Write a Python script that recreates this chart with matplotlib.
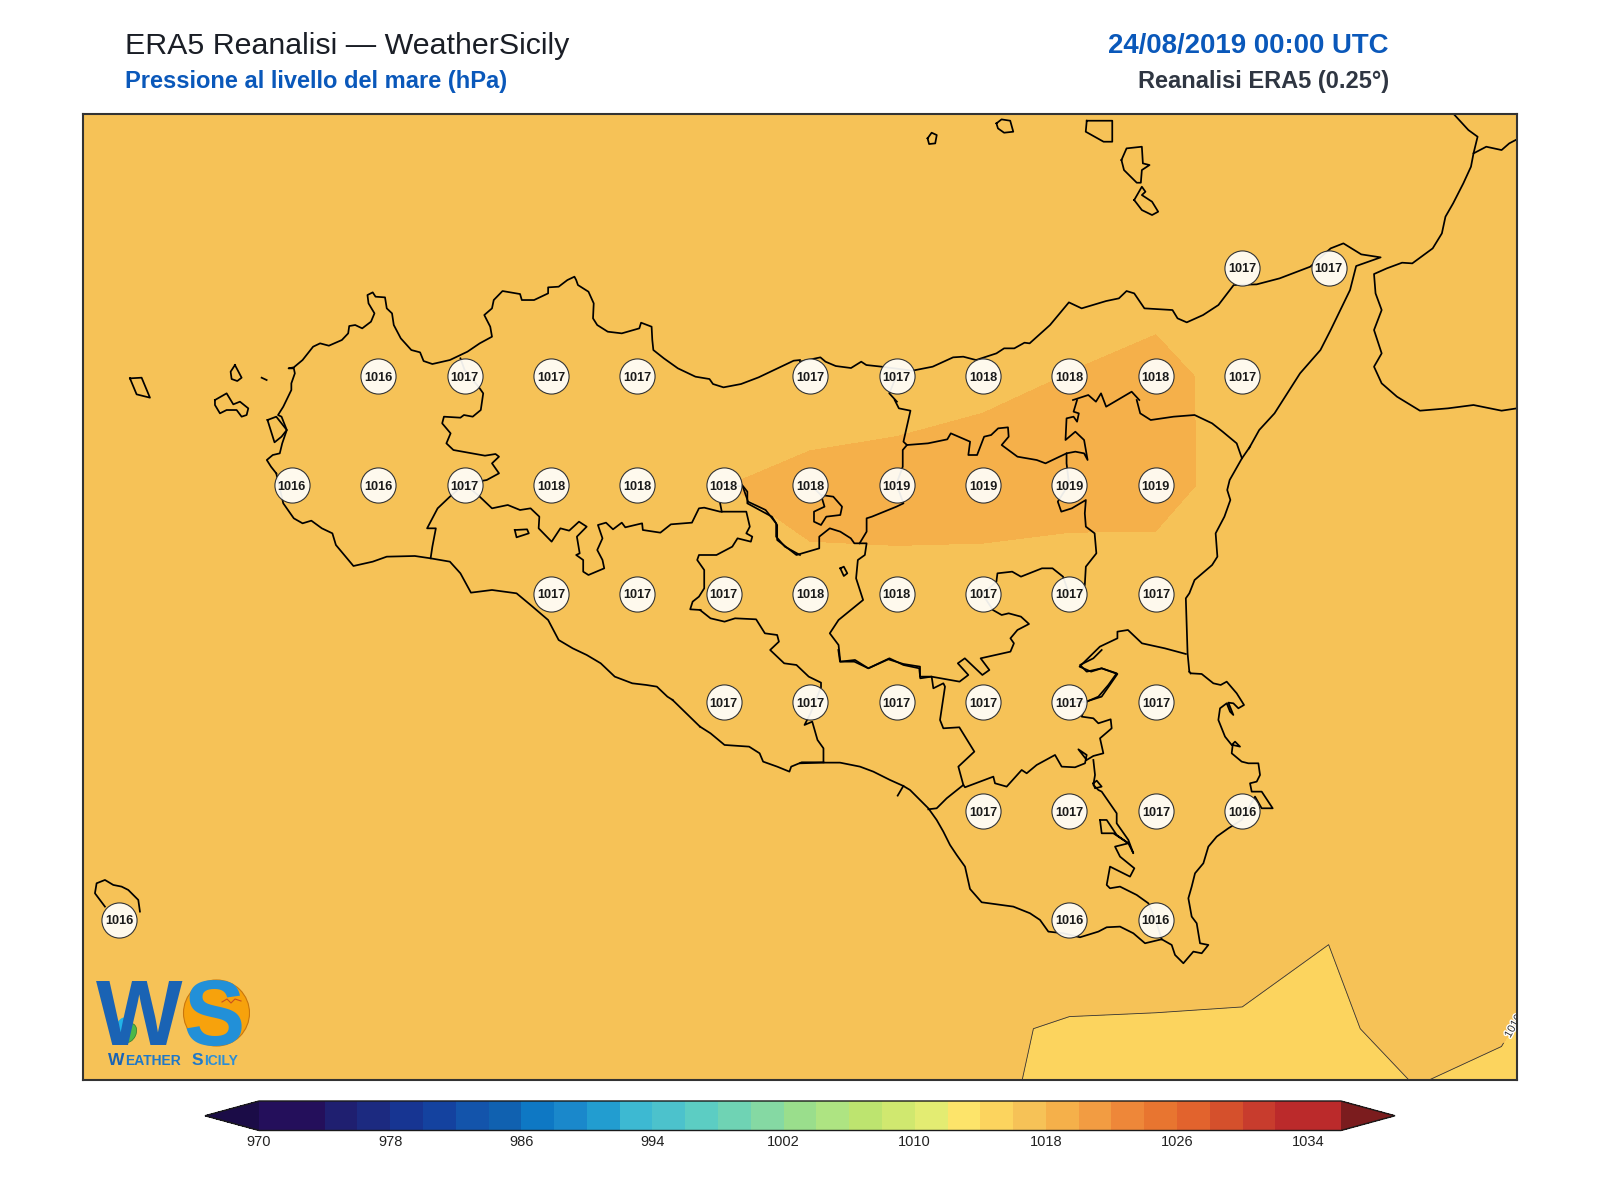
import numpy as np
import matplotlib
matplotlib.use("Agg")
import matplotlib.pyplot as plt
import matplotlib.patheffects as pe
from matplotlib.colors import ListedColormap, BoundaryNorm
from matplotlib.patches import Circle, Ellipse

plt.rcParams['font.family'] = ['Liberation Sans', 'DejaVu Sans']

# ERA5 grid, 0.25 deg
lons = np.arange(11.75, 16.26, 0.25)
lats = np.array([36.25, 36.5, 36.75, 37.0, 37.25, 37.5, 37.75, 38.0, 38.25, 38.5, 38.75])

msl_3625 = [1016.1, 1016.1, 1016.1, 1016.1, 1016.1, 1016.1, 1016.1, 1016.1, 1016.1, 1016.1, 1016.1, 1016.04, 1015.91, 1015.8, 1015.7, 1015.5, 1015.48, 1015.49, 1015.2]
msl_3650 = [1016.05, 1016.05, 1016.05, 1016.1, 1016.1, 1016.15, 1016.2, 1016.2, 1016.2, 1016.2, 1016.15, 1016.07, 1015.95, 1015.94, 1015.9, 1015.66, 1016.59, 1016.1, 1015.3]
msl_3675 = [1016.05, 1016.1, 1016.1, 1016.15, 1016.2, 1016.3, 1016.35, 1016.4, 1016.45, 1016.5, 1016.5, 1016.45, 1016.4, 1016.35, 1016.4, 1016.1, 1016.2, 1016.3, 1015.9]
msl_3700 = [1016.1, 1016.1, 1016.2, 1016.2, 1016.3, 1016.4, 1016.5, 1016.6, 1016.7, 1016.8, 1016.9, 1016.8, 1016.7, 1016.6, 1016.4, 1016.3, 1016.3, 1016.3, 1016.3]
msl_3725 = [1016.1, 1016.2, 1016.2, 1016.3, 1016.4, 1016.5, 1016.7, 1016.9, 1017.0, 1017.1, 1017.2, 1017.1, 1017.0, 1016.8, 1016.6, 1016.5, 1016.4, 1016.4, 1016.3]
msl_3750 = [1016.1, 1016.2, 1016.3, 1016.4, 1016.6, 1016.8, 1017.0, 1017.2, 1017.3, 1017.58, 1017.52, 1017.39, 1017.09, 1016.91, 1016.7, 1016.6, 1016.5, 1016.5, 1016.4]
msl_3775 = [1016.1, 1016.2, 1016.3, 1016.4, 1016.45, 1016.9, 1017.55, 1017.7, 1017.97, 1018.45, 1018.6, 1018.7, 1018.7, 1018.8, 1017.08, 1016.8, 1016.7, 1016.6, 1016.5]
msl_3800 = [1016.2, 1016.3, 1016.3, 1016.4, 1016.45, 1016.7, 1016.9, 1017.0, 1017.0, 1017.02, 1017.25, 1017.64, 1018.03, 1018.45, 1017.44, 1017.0, 1016.8, 1016.7, 1016.6]
msl_3825 = [1016.2, 1016.3, 1016.4, 1016.4, 1016.5, 1016.6, 1016.7, 1016.8, 1016.9, 1017.0, 1017.1, 1017.2, 1017.3, 1017.27, 1017.1, 1016.9, 1016.8, 1016.7, 1016.6]
msl_3850 = [1016.3, 1016.3, 1016.4, 1016.4, 1016.5, 1016.6, 1016.6, 1016.7, 1016.7, 1016.8, 1016.9, 1016.9, 1017.0, 1017.0, 1016.9, 1016.8, 1016.7, 1016.6, 1016.6]
msl_3875 = [1016.3, 1016.3, 1016.4, 1016.4, 1016.5, 1016.5, 1016.6, 1016.6, 1016.7, 1016.7, 1016.8, 1016.8, 1016.8, 1016.8, 1016.8, 1016.7, 1016.7, 1016.6, 1016.6]
msl = np.array([msl_3625, msl_3650, msl_3675, msl_3700, msl_3725, msl_3750, msl_3775, msl_3800, msl_3825, msl_3850, msl_3875])

# grid points that get a value bubble (land points)
label_points = {
    38.25: [15.25, 15.5],
    38.0: [12.75, 13.0, 13.25, 13.5, 14.0, 14.25, 14.5, 14.75, 15.0, 15.25],
    37.75: [12.5, 12.75, 13.0, 13.25, 13.5, 13.75, 14.0, 14.25, 14.5, 14.75, 15.0],
    37.5: [13.25, 13.5, 13.75, 14.0, 14.25, 14.5, 14.75, 15.0],
    37.25: [13.75, 14.0, 14.25, 14.5, 14.75, 15.0],
    37.0: [14.5, 14.75, 15.0, 15.25],
    36.75: [12.0, 14.75, 15.0],
}

levels = np.arange(970, 1037, 2)
cbar_ticks = np.arange(970, 1035, 8)
band_colors = ['#240f5b', '#240f5b', '#1f1f70', '#1c2a80', '#173592', '#14429f', '#1354ab', '#1061b0',
               '#0e78c4', '#1a88cb', '#229dd0', '#3db9d2', '#4cc2cc', '#5ccdc3', '#6fd3b4', '#85d9a3',
               '#9ade8c', '#aee482', '#bde46f', '#d0e86f', '#e3ec72', '#fde46a', '#fcd45e', '#f6c257',
               '#f5b04a', '#f29c42', '#ee8739', '#e87530', '#e2632d', '#d5502c', '#c83c2d', '#bb2a2b', '#bb2a2b']

TILES = {
    'px': (0, 0, 1, 1),
    'A': (250, 280, 2.851, 3),
    'B': (700, 400, 2.851, 3),
    'C': (800, 650, 3, 3),
    'D': (800, 0, 1.96, 3),
    'E': (120, 355, 3, 3),
    'F': (85, 870, 3, 3),
}

north_coast_w = [(75, 580), (60, 560), (48, 540), (65, 525), (85, 520), (92, 490), (105, 450), (90, 410), (80, 405), (95, 380), (118, 330), (118, 310), (128, 280), (125, 265), (110, 265), (125, 262), (150, 240), (180, 200), (200, 190), (225, 197), (262, 180), (280, 160), (283, 138), (300, 135), (320, 145), (345, 125), (355, 100), (338, 70), (335, 45), (350, 37), (358, 50), (385, 52), (390, 85), (405, 100), (410, 135), (430, 175), (460, 210), (485, 217), (495, 243), (520, 252), (570, 240), (620, 215), (655, 190), (690, 170), (685, 140), (668, 105), (690, 85), (695, 60), (720, 33), (770, 42), (775, 60), (810, 60), (850, 40), (850, 22), (880, 20), (905, 0), (925, -10), (930, 0), (935, 15), (965, 35), (980, 70), (978, 115), (990, 135), (1020, 155), (1060, 160), (1110, 145), (1115, 128), (1145, 140), (1147, 180), (1150, 210), (1180, 235), (1220, 265), (1270, 290), (1310, 297), (1320, 312), (1350, 322), (1400, 312), (1450, 292), (1510, 262), (1550, 242), (1568, 240)]
north_coast_e = [(0, 1085), (40, 1072), (50, 1085), (70, 1098), (100, 1104), (120, 1085), (130, 1095), (160, 1100), (220, 1112), (260, 1100), (300, 1072), (320, 1070), (345, 1080), (385, 1060), (400, 1045), (420, 1045), (440, 1028), (450, 1030), (490, 975), (527, 907), (552, 925), (600, 903), (625, 895), (640, 873), (655, 880), (675, 925), (730, 930), (740, 955), (758, 967), (790, 945), (820, 915), (850, 855), (895, 853), (940, 835), (1000, 800), (1040, 745), (1065, 730), (1100, 763), (1138, 772), (1090, 798), (1078, 870), (1040, 990), (1020, 1050), (980, 1120), (930, 1240), (900, 1290), (880, 1345)]
ionian_coast_n = [(1568, 140), (1545, 175), (1510, 240), (1503, 270), (1512, 300), (1495, 350), (1470, 400), (1475, 470), (1460, 495), (1410, 540), (1395, 580), (1385, 595), (1390, 760), (1395, 815)]
ionian_coast_s = [(1172, 70), (1205, 72), (1240, 100), (1262, 105), (1280, 95), (1310, 130), (1332, 165), (1315, 175), (1300, 160), (1285, 158), (1300, 195), (1290, 185), (1280, 160), (1260, 175), (1255, 210), (1275, 260), (1295, 285), (1305, 275), (1320, 290), (1298, 285), (1295, 310), (1325, 335), (1345, 340), (1375, 340), (1380, 375), (1370, 395), (1350, 400), (1355, 425), (1385, 425), (1418, 475), (1385, 475), (1365, 440), (1325, 510), (1285, 535), (1250, 560), (1225, 590), (1210, 640), (1185, 670), (1175, 710), (1165, 745), (1175, 800), (1190, 820), (1200, 880), (1225, 885), (1205, 910), (1180, 905), (1150, 940), (1125, 915), (1115, 885), (1085, 868), (1035, 880), (1000, 850), (960, 830), (920, 832), (895, 845), (840, 862), (790, 850), (745, 845), (720, 810), (690, 790), (640, 770), (545, 757), (510, 717), (495, 650), (470, 615), (450, 585), (430, 545), (410, 510), (385, 475), (360, 450), (330, 420), (310, 408), (270, 390), (220, 365), (180, 350), (120, 338), (70, 338), (0, 340)]
ionian_link = [(1395, 815), (1172, 70)]
south_coast_c = [(352, 1087), (290, 1087), (260, 1100), (255, 1115), (220, 1100), (180, 1085), (170, 1060), (140, 1040), (70, 1035), (30, 1000), (0, 980)]
south_coast_joint = [(700, 726.7), (672.6, 700)]
south_coast_w = [(1205, 1260), (1190, 1250), (1160, 1220), (1130, 1215), (1090, 1210), (1040, 1190), (1000, 1150), (960, 1125), (920, 1105), (880, 1080), (850, 1020), (800, 975), (760, 940), (690, 930), (630, 938), (600, 880), (570, 845), (515, 835), (470, 828), (390, 830), (350, 845), (295, 858), (245, 795), (235, 760), (205, 745), (175, 722), (150, 730), (125, 715), (95, 670), (75, 580)]
stagnone = [(50, 420), (75, 410), (105, 450), (90, 470), (70, 487), (50, 420)]

border_trapani = [(515, 835), (520, 800), (530, 745), (505, 745), (520, 715), (535, 685), (570, 650), (612, 612)]
border_palermo = [(600, 235), (612, 270), (655, 325), (665, 340), (658, 390), (635, 410), (610, 405), (600, 413), (553, 410), (548, 430), (572, 460), (560, 490), (580, 510), (670, 527), (700, 522), (710, 530), (690, 550), (710, 580), (675, 600), (612, 612), (655, 650), (690, 685), (735, 675), (770, 690), (800, 685), (825, 710), (823, 745), (860, 785), (885, 745), (910, 752), (938, 725), (960, 740), (932, 770), (940, 820), (930, 825), (950, 840), (950, 875), (965, 885), (1010, 865), (1005, 840), (990, 810), (1005, 775), (992, 735), (1015, 728), (1035, 748), (1060, 728), (1070, 742), (1118, 730), (1120, 750), (1170, 758), (1200, 733), (1260, 728), (1280, 685), (1295, 683), (1340, 695), (1415, 695), (1425, 740), (1415, 760), (1432, 770), (1428, 785), (1390, 775), (1375, 800), (1330, 825), (1280, 825), (1275, 840), (1295, 870), (1295, 925), (1280, 950), (1262, 965), (1255, 988), (1285, 990)]
border_cl_ag = [(0, 630), (30, 655), (70, 665), (100, 655), (160, 658), (185, 700), (220, 705), (225, 725), (200, 750), (240, 790), (275, 795), (310, 830), (345, 848), (345, 862), (315, 940), (298, 975), (320, 965), (335, 1020), (352, 1045), (352, 1087)]
lake_arancio = [(755, 750), (790, 748), (795, 760), (760, 772), (755, 750)]
border_pa_me_a = [(1340, 668), (1345, 695)]
border_en_pa = [(1350, 612), (1405, 620), (1420, 665), (1470, 690), (1500, 730), (1500, 770), (1525, 800), (1568, 825)]
border_cl_en = [(120, 255), (135, 275), (135, 310), (205, 350), (220, 375), (220, 420), (275, 465), (340, 445), (340, 410), (370, 385), (400, 395), (430, 415), (440, 430), (475, 430), (470, 465), (450, 480), (445, 535), (465, 600), (395, 660), (370, 700), (395, 735), (400, 785), (440, 785), (480, 805), (540, 775), (580, 795), (625, 805), (628, 835), (660, 830), (740, 845), (765, 825), (735, 790), (755, 775), (805, 825), (825, 810), (800, 775), (885, 755), (895, 730), (885, 715), (905, 690), (938, 672), (915, 650), (880, 640), (860, 645), (835, 630), (805, 582), (845, 545), (848, 520), (890, 515), (915, 530), (975, 505), (1005, 505), (1035, 530), (1052, 582)]
border_me_ct = [(1085, 580), (1097, 555), (1100, 500), (1130, 460), (1125, 400), (1100, 380), (1097, 340), (1100, 300), (1060, 325), (1030, 335), (1020, 305), (1052, 252)]
border_me_en_a = [(1052, 252), (1045, 190), (1045, 160), (1070, 155), (1095, 160), (1105, 180), (1095, 120), (1070, 95), (1042, 120), (1045, 55), (1065, 50), (1075, 65), (1080, 40), (1065, 35), (1075, 0)]
border_me_en_b = [(1045, 160), (985, 190), (960, 180), (905, 170), (860, 135), (880, 110), (878, 82), (850, 85), (830, 105), (810, 110), (790, 165), (765, 165), (770, 125), (715, 100), (705, 118), (650, 130), (590, 135), (580, 125), (600, 32), (567, 25), (555, 0)]
border_pa_en = [(590, 135), (578, 150), (578, 200), (560, 252), (580, 310), (560, 320), (490, 350), (475, 355), (475, 395), (455, 430)]
exclave_sperlinga = [(315, 255), (345, 285), (380, 290), (405, 320), (400, 345), (360, 350), (345, 375), (325, 365), (325, 335), (355, 320), (345, 285)]
lake_pozzillo = [(400, 505), (410, 500), (420, 520), (410, 528), (400, 505)]
border_me_top = [(189, 1128), (175, 1180), (190, 1205)]
border_me_top4 = [(535, 1200), (565, 1185), (580, 1205), (590, 1180), (600, 1220), (650, 1175), (665, 1200)]
border_me_top5 = [(1245, 0), (1255, 40), (1285, 60), (1350, 50), (1410, 45), (1460, 70), (1490, 95), (1530, 130), (1545, 175)]
border_ct_sr = [(1052, 907), (1100, 905), (1145, 890), (1165, 860), (1190, 822), (1145, 805), (1115, 815), (1082, 800), (1140, 740), (1190, 715), (1190, 695), (1220, 690), (1260, 730), (1325, 745), (1385, 762)]
border_ct_rg = [(808, 157), (860, 155), (845, 200), (880, 205), (895, 220), (932, 208), (935, 235), (900, 265), (910, 310), (880, 318), (860, 330), (835, 298), (860, 315), (855, 340), (825, 352), (785, 350), (765, 315), (710, 345), (680, 370), (665, 360), (620, 410), (585, 400), (580, 380), (495, 412), (490, 405), (475, 350), (523, 305), (478, 232), (430, 235), (420, 210), (435, 110), (430, 100), (400, 115), (395, 80), (360, 80), (360, 50), (310, 42), (265, 28), (205, 55), (165, 30), (120, 35), (115, 0)]
border_en_ct = [(860, 155), (895, 140), (925, 105), (950, 70), (905, 55), (860, 65), (840, 45), (880, 25), (905, 0)]
border_cl_rg = [(490, 405), (440, 445), (410, 475), (385, 478)]
river_spur = [(310, 408), (293, 437)]
border_sr_rg = [(880, 330), (885, 375), (880, 405), (895, 420), (905, 425), (950, 490), (950, 520), (985, 570), (1000, 610), (985, 580), (945, 590), (960, 620), (1003, 655), (990, 680), (930, 650), (920, 705), (930, 715), (960, 710), (1010, 735), (1045, 760), (1067, 810), (1085, 868)]
sr_inlet = [(900, 510), (920, 510), (950, 555), (985, 580), (940, 550), (905, 550), (900, 510)]
sr_lake = [(880, 400), (890, 392), (905, 410), (885, 415), (880, 400)]

ustica = [(250, 415), (258, 398), (268, 405), (265, 430), (253, 432), (250, 415)]
alicudi = [(385, 370), (395, 358), (412, 362), (418, 395), (400, 398), (388, 385), (385, 370)]
filicudi = [(562, 362), (612, 362), (612, 425), (595, 425), (560, 395), (562, 362)]
lipari = [(630, 480), (640, 445), (670, 440), (672, 490), (685, 495), (670, 510), (668, 548), (660, 548), (635, 510), (630, 480)]
vulcano = [(655, 600), (670, 560), (677, 575), (670, 585), (690, 605), (702, 635), (690, 645), (670, 630), (655, 600)]
calabria_coast = [(1283, 345), (1310, 390), (1328, 410), (1320, 460), (1315, 500), (1300, 550), (1280, 610), (1265, 650), (1258, 700), (1240, 745), (1200, 790), (1180, 788), (1150, 805), (1125, 822), (1128, 880), (1140, 930), (1125, 990), (1140, 1060), (1125, 1100), (1140, 1150), (1170, 1190), (1215, 1232), (1270, 1225), (1320, 1215), (1375, 1232), (1405, 1225)]
calabria_border = [(1320, 460), (1345, 440), (1375, 450), (1390, 430), (1405, 418)]

marettimo = [(30, 70), (65, 68), (90, 128), (50, 118), (30, 70)]
levanzo = [(345, 30), (365, 68), (352, 78), (335, 72), (332, 50), (345, 30)]
favignana = [(285, 135), (320, 115), (340, 148), (360, 140), (385, 160), (380, 180), (365, 185), (350, 165), (320, 165), (300, 175), (285, 150), (285, 135)]
formica = [(425, 68), (440, 75)]
pantelleria = [(60, 110), (30, 70), (35, 40), (60, 30), (85, 45), (110, 50), (130, 60), (160, 90), (165, 125)]

outlines = [
    ('A', north_coast_w), ('D', north_coast_e), ('B', ionian_coast_n), ('C', ionian_coast_s),
    ('B', south_coast_c), ('px', south_coast_joint), ('A', south_coast_w), ('A', stagnone),
    ('A', border_trapani), ('A', border_palermo), ('B', border_cl_ag), ('A', lake_arancio), ('A', border_pa_me_a),
    ('A', border_en_pa), ('B', border_cl_en), ('B', border_me_ct), ('B', border_me_en_a), ('B', border_me_en_b),
    ('B', border_pa_en), ('B', exclave_sperlinga), ('B', lake_pozzillo), ('D', border_me_top),
    ('D', border_me_top4), ('B', border_me_top5), ('B', border_ct_sr), ('C', border_ct_rg),
    ('C', border_en_ct), ('C', border_cl_rg), ('C', river_spur), ('C', border_sr_rg), ('C', sr_inlet), ('C', sr_lake),
    ('D', ustica), ('D', alicudi), ('D', filicudi), ('D', lipari), ('D', vulcano), ('D', calabria_coast), ('D', calabria_border),
    ('E', marettimo), ('E', levanzo), ('E', favignana), ('E', formica), ('F', pantelleria),
]


def scan_to_lonlat(tile, pts):
    x0, y0, sx, sy = TILES[tile]
    pts = np.asarray(pts, dtype=float)
    x = x0 + pts[:, 0] / sx
    y = y0 + pts[:, 1] / sy
    return 12 + (x - 119) / 86.4 * 0.25, 38.25 - (y - 267.5) / 108.75 * 0.25


fig = plt.figure(figsize=(16, 12), dpi=100, facecolor='white')
ax = fig.add_axes([83 / 1600, 1 - 1080 / 1200, 1434 / 1600, 966 / 1200])

cmap = ListedColormap(band_colors)
cmap.set_under('#1b0c47')
cmap.set_over('#7b1c1e')
norm = BoundaryNorm(levels, cmap.N)
cf = ax.contourf(lons, lats, msl, levels=levels, cmap=cmap, norm=norm, extend='both', zorder=1)
cs = ax.contour(lons, lats, msl, levels=[1016], colors='#333333', linewidths=0.6, zorder=2)

for tile, pts in outlines:
    lon, lat = scan_to_lonlat(tile, pts)
    ax.plot(lon, lat, color='black', lw=1.25, solid_joinstyle='round', zorder=3)

# the two stretches of the Ionian coast meet between tiles
a_lon, a_lat = scan_to_lonlat('B', ionian_link[:1])
b_lon, b_lat = scan_to_lonlat('C', ionian_link[1:])
ax.plot([a_lon[0], b_lon[0]], [a_lat[0], b_lat[0]], color='black', lw=1.25, zorder=3)

lab_lon, lab_lat = scan_to_lonlat('px', [(1513, 1026)])
clabs = ax.clabel(cs, fmt='%d', fontsize=8, inline=True, manual=[(lab_lon[0], lab_lat[0])], colors='#333333')
for t in clabs:
    t.set_clip_on(True)
    t.set_clip_box(ax.bbox)
    t.set_path_effects([pe.withStroke(linewidth=2, foreground='white')])

# value bubbles
for lat, lon_list in label_points.items():
    j = np.argmin(np.abs(lats - lat))
    for lon in lon_list:
        i = np.argmin(np.abs(lons - lon))
        ax.scatter(lon, lat, s=640, facecolor=(1, 0.995, 0.98, 0.93), edgecolor='#333333', linewidth=0.8, zorder=5)
        ax.text(lon, lat, str(int(np.floor(msl[j, i] + 0.5))), ha='center', va='center_baseline',
                fontsize=9.2, fontweight='bold', color='#1a1a1a', zorder=6)

ax.set_xlim(11.896, 16.045)
ax.set_ylim(36.382, 38.603)
ax.set_xticks([])
ax.set_yticks([])
for s in ax.spines.values():
    s.set_linewidth(1.5)
    s.set_color('#333333')
    s.set_zorder(10)

# colorbar, axes runs tip to tip of the extend arrows
cax = fig.add_axes([205 / 1600, 1 - 1130.5 / 1200, 1190 / 1600, 29.5 / 1200])
cb = fig.colorbar(cf, cax=cax, orientation='horizontal', ticks=cbar_ticks, extendfrac=54 / 1081, spacing='uniform')
cb.ax.minorticks_off()
cb.ax.tick_params(which='both', length=0, pad=3, labelsize=10.5, labelcolor='#222222')
cb.outline.set_linewidth(1.0)
cb.outline.set_edgecolor('#1a1a1a')


# titles
def title(x, y, s, **kw):
    fig.text(x / 1600, 1 - y / 1200, s, va='baseline', **kw)


title(125, 54, 'ERA5 Reanalisi — WeatherSicily', fontsize=21.9, color='#1a1e26')
title(125, 88.3, 'Pressione al livello del mare (hPa)', fontsize=17.0, fontweight='bold', color='#0a58ba')
title(1389, 53.5, '24/08/2019 00:00 UTC', fontsize=19.9, fontweight='bold', color='#0a58ba', ha='right')
title(1389, 88.3, 'Reanalisi ERA5 (0.25°)', fontsize=17.0, fontweight='bold', color='#2f3642', ha='right')

# WS logo
logo = fig.add_axes([90 / 1600, 1 - 1075 / 1200, 160 / 1600, 105 / 1200])
logo.set_xlim(90, 250)
logo.set_ylim(1075, 970)
logo.axis('off')
logo.patch.set_alpha(0)
logo.add_patch(Circle((216.5, 1013), 33, facecolor='#f7a20c', edgecolor='#c9760c', lw=0.8))
logo.text(96, 1045, 'W', fontsize=66, fontweight='bold', color='#1a63b4', va='baseline', ha='left')
logo.text(183, 1045, 'S', fontsize=66, fontweight='bold', color='#2290d8', va='baseline', ha='left')
logo.add_patch(Ellipse((122, 1028), 13, 22, angle=20, facecolor='#22b4e8', edgecolor='none'))
logo.add_patch(Ellipse((129, 1033), 14, 20, angle=25, facecolor='#4cb848', edgecolor='#2b7a30', lw=0.5))
logo.plot([222, 227, 231, 235, 241], [1002, 999, 1003, 999, 1001], color='#c8501e', lw=0.8)
logo.text(108, 1065, 'W', fontsize=12.5, fontweight='bold', color='#1a63b4', va='baseline')
logo.text(125, 1065, 'EATHER', fontsize=10, fontweight='bold', color='#1f78c8', va='baseline')
logo.text(192, 1065, 'S', fontsize=12.5, fontweight='bold', color='#1f78c8', va='baseline')
logo.text(204, 1065, 'ICILY', fontsize=10, fontweight='bold', color='#2a8ed8', va='baseline')

fig.savefig('out.png', dpi=100)
